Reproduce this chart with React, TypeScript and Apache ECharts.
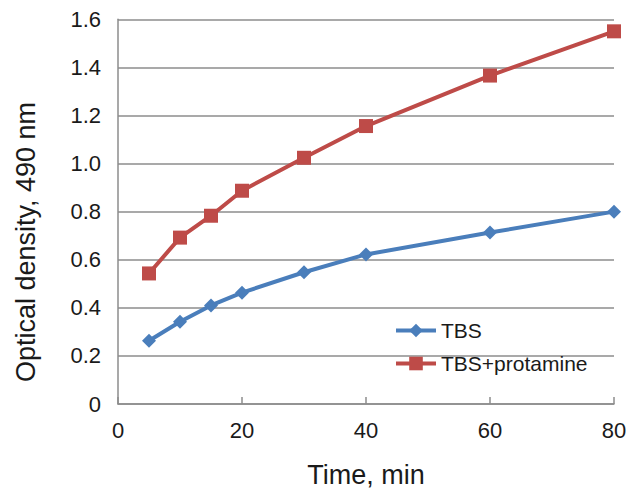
import React, { useEffect, useRef } from "react";
import * as echarts from "echarts";

const times = [5, 10, 15, 20, 30, 40, 60, 80];
const tbs = [0.263, 0.342, 0.41, 0.463, 0.548, 0.622, 0.713, 0.8];
const tbsProtamine = [0.543, 0.692, 0.783, 0.887, 1.024, 1.156, 1.366, 1.55];
const seriesNames = ["TBS", "TBS+protamine"];
const xTitle = "Time, min";
const yTitle = "Optical density, 490 nm";

const FONT = "Liberation Sans, Arial, sans-serif";

export default function App() {
  const ref = useRef<HTMLDivElement>(null);
  useEffect(() => {
    if (!ref.current) return;
    const chart = echarts.init(ref.current, undefined, { renderer: "svg" });
    const gridColor = "#8c8c8c";
    chart.setOption({
      animation: false,
      backgroundColor: "#ffffff",
      textStyle: { fontFamily: FONT },
      grid: {
        left: 118,
        right: 22,
        top: 19.3,
        bottom: 87,
        outerBoundsMode: "none",
        containLabel: false,
      },
      legend: {
        orient: "vertical",
        left: 389,
        top: 315,
        itemWidth: 40,
        itemHeight: 17,
        itemGap: 12,
        data: seriesNames,
        lineStyle: { width: 4 },
        textStyle: { fontSize: 21, color: "#1a1a1a", fontFamily: FONT, lineHeight: 21 },
      },
      xAxis: {
        type: "value",
        min: 0,
        max: 80,
        interval: 20,
        name: xTitle,
        nameLocation: "middle",
        nameGap: 57,
        nameTextStyle: { fontSize: 27, color: "#1a1a1a", fontFamily: FONT },
        axisLine: { show: true, lineStyle: { color: gridColor, width: 1.5 } },
        axisTick: { show: true, inside: true, length: 7, lineStyle: { color: gridColor, width: 1.5 } },
        axisLabel: { fontSize: 22, color: "#1a1a1a", margin: 15, fontFamily: FONT },
        splitLine: { show: false },
      },
      yAxis: {
        type: "value",
        min: 0,
        max: 1.6,
        interval: 0.2,
        axisLine: { show: true, lineStyle: { color: gridColor, width: 1.5 } },
        axisTick: { show: false },
        axisLabel: {
          fontSize: 22,
          color: "#1a1a1a",
          margin: 17,
          fontFamily: FONT,
          formatter: (v: number) => (v === 0 ? "0" : v.toFixed(1)),
        },
        splitLine: { show: true, lineStyle: { color: gridColor, width: 1.5 } },
      },
      graphic: [
        {
          type: "text",
          x: 25.5,
          y: 242,
          rotation: Math.PI / 2,
          style: {
            text: yTitle,
            fontSize: 27,
            fontFamily: FONT,
            fill: "#1a1a1a",
            align: "center",
            verticalAlign: "middle",
          },
        },
      ],
      series: [
        {
          name: seriesNames[0],
          type: "line",
          data: times.map((t, i) => [t, tbs[i]]),
          symbol: "diamond",
          symbolSize: 14,
          itemStyle: { color: "#4a7ebb" },
          lineStyle: { color: "#4a7ebb", width: 4 },
        },
        {
          name: seriesNames[1],
          type: "line",
          data: times.map((t, i) => [t, tbsProtamine[i]]),
          symbol: "rect",
          symbolSize: 14,
          itemStyle: { color: "#be4b48" },
          lineStyle: { color: "#be4b48", width: 4 },
        },
      ],
    });
    return () => chart.dispose();
  }, []);
  return (
    <div
      ref={ref}
      style={{ position: "fixed", left: 0, top: 0, width: 636, height: 491 }}
    />
  );
}
